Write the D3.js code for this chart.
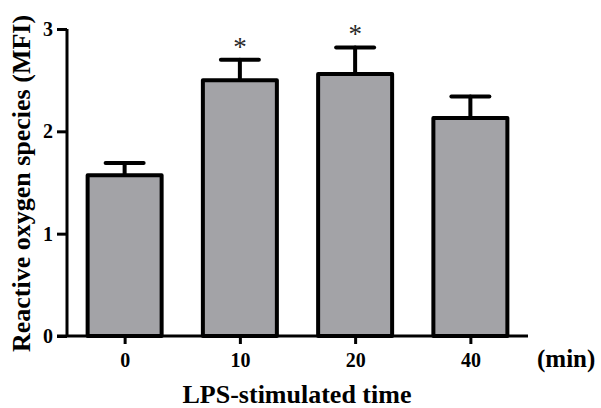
<!DOCTYPE html>
<html>
<head>
<meta charset="utf-8">
<script src="https://cdn.jsdelivr.net/npm/d3@7.9.0/dist/d3.min.js"></script>
<style>
  body { margin: 0; background: #fff; }
  text { font-family: "Liberation Serif", "Times New Roman", serif; }
</style>
</head>
<body>
<div id="chart"></div>
<script>
// data
const categories = ['0', '10', '20', '40'];
const means = [1.57, 2.50, 2.56, 2.13];
const errors = [0.12, 0.20, 0.26, 0.21];
const significant = [false, true, true, false];
const yTicks = [0, 1, 2, 3];

const width = 601;
const height = 408;

const svg = d3.select('#chart')
    .append('svg')
    .attr('width', width)
    .attr('height', height);

const plot = { left: 67, right: 528, top: 29, bottom: 336 };

const xScale = d3.scalePoint()
    .domain(categories)
    .range([plot.left, plot.right])
    .padding(0.5);

const yScale = d3.scaleLinear()
    .domain([0, 3])
    .range([plot.bottom, plot.top]);

const barWidth = 74;

// bars
svg.append('g')
    .selectAll('rect')
    .data(categories)
    .join('rect')
    .attr('x', d => xScale(d) - barWidth / 2)
    .attr('y', (d, i) => yScale(means[i]))
    .attr('width', barWidth)
    .attr('height', (d, i) => yScale(0) - yScale(means[i]))
    .attr('fill', '#a3a3a7')
    .attr('stroke', '#000')
    .attr('stroke-width', 4)
    .attr('stroke-linejoin', 'round');

// error bars (upper only)
const err = svg.append('g')
    .attr('stroke', '#000')
    .attr('stroke-linecap', 'round');

err.selectAll('line.stem')
    .data(categories)
    .join('line')
    .attr('class', 'stem')
    .attr('x1', d => xScale(d))
    .attr('x2', d => xScale(d))
    .attr('y1', (d, i) => yScale(means[i]) - 2)
    .attr('y2', (d, i) => yScale(means[i] + errors[i]))
    .attr('stroke-width', 4);

err.selectAll('line.cap')
    .data(categories)
    .join('line')
    .attr('class', 'cap')
    .attr('x1', d => xScale(d) - 19)
    .attr('x2', d => xScale(d) + 19)
    .attr('y1', (d, i) => yScale(means[i] + errors[i]))
    .attr('y2', (d, i) => yScale(means[i] + errors[i]))
    .attr('stroke-width', 4);

// significance marks
svg.append('g')
    .selectAll('text')
    .data(categories.filter((d, i) => significant[i]))
    .join('text')
    .attr('x', d => xScale(d))
    .attr('y', d => {
        const i = categories.indexOf(d);
        return yScale(means[i] + errors[i]) - 4;
    })
    .attr('text-anchor', 'middle')
    .attr('font-size', 27)
    .attr('fill', '#2a2a2a')
    .text('*');

// y axis
const yAxis = svg.append('g')
    .attr('transform', `translate(${plot.left},0)`)
    .call(d3.axisLeft(yScale).tickValues(yTicks).tickFormat(d3.format('d')).tickSize(10).tickPadding(4));

// x axis
const xAxis = svg.append('g')
    .attr('transform', `translate(0,${plot.bottom})`)
    .call(d3.axisBottom(xScale).tickSize(8).tickPadding(9).tickSizeOuter(0));

[yAxis, xAxis].forEach(ax => {
    ax.select('.domain').attr('stroke', '#000').attr('stroke-width', 3);
    ax.selectAll('.tick line').attr('stroke', '#000').attr('stroke-width', 3);
    ax.selectAll('.tick text')
        .attr('fill', '#000')
        .attr('font-size', 20)
        .attr('font-weight', 'bold')
        .style('font-family', '"Liberation Serif", serif');
});
// y axis line without outer ticks
yAxis.select('.domain').attr('d', `M0,${plot.top}V${plot.bottom}`);
xAxis.select('.domain').attr('d', `M${plot.left - 10},0H${plot.right}`);

// axis titles
svg.append('text')
    .attr('x', 297)
    .attr('y', 403)
    .attr('text-anchor', 'middle')
    .attr('font-size', 26)
    .attr('font-weight', 'bold')
    .text('LPS-stimulated time');

svg.append('text')
    .attr('x', 537)
    .attr('y', 367)
    .attr('font-size', 25)
    .attr('font-weight', 'bold')
    .text('(min)');

svg.append('text')
    .attr('transform', `translate(30,${(12 + 355) / 2}) rotate(-90)`)
    .attr('text-anchor', 'middle')
    .attr('font-size', 26)
    .attr('font-weight', 'bold')
    .text('Reactive oxygen species (MFI)');
</script>
</body>
</html>
